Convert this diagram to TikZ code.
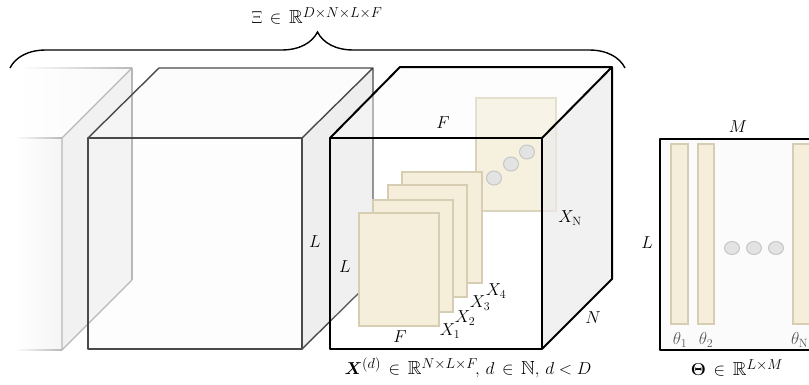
\documentclass[tikz,border=0pt]{standalone}
\usepackage{amsmath,amssymb,bm}
\usetikzlibrary{decorations.pathreplacing}
\definecolor{sheetfill}{HTML}{F5EEDA}
\definecolor{sheetline}{HTML}{D6CDB3}
\definecolor{edgemid}{HTML}{4A4A4A}
\definecolor{fadeline}{HTML}{B8B8B8}
\tikzset{
  sheet/.style={fill=sheetfill, draw=sheetline, line width=1.2},
  blob/.style={fill=gray!22, draw=gray!45, line width=1},
  midedge/.style={draw=edgemid, line width=1.4, line join=round},
  bigedge/.style={draw=black, line width=2, line join=round},
  lab/.style={inner sep=0pt, font=\fontsize{17}{20}\selectfont},
  formula/.style={inner sep=0pt, font=\fontsize{19}{22}\selectfont},
  fadebar/.style={left color=white, right color=fadeline}
}
\begin{document}
\begin{tikzpicture}[x=1pt,y=-1pt]
\useasboundingbox (0,0) rectangle (809,384);
\clip (0,0) rectangle (809,384);
\fill[white] (0,0) rectangle (809,384);

% ---- faded cube ----
\shade[left color=white, right color=gray!5] (20,68) -- (132,68) -- (62,138) -- (15,138) -- cycle;
\shade[left color=white, right color=gray!8] (15,138) rectangle (62,350);
\fill[gray!11] (62,138) -- (132,68) -- (132,280) -- (62,350) -- cycle;
\shade[fadebar] (20,67.4) rectangle (132,68.6);
\shade[fadebar] (15,137.4) rectangle (62,138.6);
\shade[fadebar] (15,349.4) rectangle (62,350.6);

% ---- middle cube ----
\coordinate (mFL) at (88,138); \coordinate (mFR) at (302,138);
\coordinate (mBR) at (302,349); \coordinate (mBL) at (88,349);
\coordinate (mTL) at (159,68); \coordinate (mTR) at (373,68);
\coordinate (mRB) at (373,279);
\fill[gray!4, opacity=0.5] (mFL) -- (mTL) -- (mTR) -- (mFR) -- cycle;
\fill[gray!13] (mFR) -- (mTR) -- (mRB) -- (mBR) -- cycle;
\fill[gray!4, opacity=0.3] (mFL) rectangle (mBR);
\draw[fadeline, line width=1.2] (62,138) -- (62,350) (62,138) -- (132,68) (62,350) -- (132,280);
\draw[fadeline, line width=1.2] (132,68) -- (132,138);
\draw[gray!55, line width=1.2] (132,138) -- (132,280);
\draw[midedge] (mFL) rectangle (mBR);
\draw[midedge] (mFL) -- (mTL) -- (mTR) -- (mFR) (mTR) -- (mRB) -- (mBR);
\node[lab] (Lmid) at (315,242) {$L$};

% ---- right cube ----
\coordinate (rFL) at (330,138); \coordinate (rFR) at (542,138);
\coordinate (rBR) at (542,349); \coordinate (rBL) at (330,349);
\coordinate (rTL) at (400,67); \coordinate (rTR) at (612,67);
\coordinate (rRB) at (612,279);
\draw[sheet] (476,98) rectangle (556,211);
\fill[gray!3, opacity=0.4] (rFL) -- (rTL) -- (rTR) -- (rFR) -- cycle;
\fill[gray!14, opacity=0.75] (rFR) -- (rTR) -- (rRB) -- (rBR) -- cycle;
\fill[white, opacity=0.12] (rFL) rectangle (rBR);
\draw[blob] (494,178) ellipse (7.5 and 7);
\draw[blob] (511,164) ellipse (7.5 and 7);
\draw[blob] (527,152) ellipse (7.5 and 7);
\draw[sheet] (402,172) rectangle (482,283);
\draw[sheet] (388,185) rectangle (467,297);
\draw[sheet] (373,200) rectangle (453,312);
\draw[sheet] (359,213) rectangle (439,326);
\draw[bigedge] (rFL) rectangle (rBR);
\draw[bigedge] (rFL) -- (rTL) -- (rTR) -- (rFR) (rTR) -- (rRB) -- (rBR);

\node[lab] (Ftop) at (443,123) {$F$};
\node[lab] (XN) at (570,218) {$X_{\mathrm{N}}$};
\node[lab] (Lin) at (345,267) {$L$};
\node[lab] (Fbot) at (400,337) {$F$};
\node[lab] (X1) at (450,331) {$X_1$};
\node[lab] (X2) at (465,318) {$X_2$};
\node[lab] (X3) at (480,303) {$X_3$};
\node[lab] (X4) at (496,291) {$X_4$};
\node[lab] (Nlab) at (593,318) {$N$};
\node[formula] (Xd) at (468,368) {$\boldsymbol{X}^{(d)}\mathrel{\,\in\,}\mathbb{R}^{N\times L\times F}\!,\, d\mathrel{\,\in\,}\mathbb{N},\, d<D$};

% ---- brace ----
\coordinate (bL) at (10,68); \coordinate (bR) at (625,68);
\draw[line width=1.4, decorate, decoration={brace, amplitude=36pt}] (bL) -- (bR);
\node[formula] (Xi) at (317,16) {$\Xi\mathrel{\,\in\,}\mathbb{R}^{D\times N\times L\times F}$};

% ---- Theta matrix ----
\draw[bigedge, fill=gray!3] (660,139) rectangle (860,350);
\draw[sheet] (671,144) rectangle (688,324);
\draw[sheet] (698,144) rectangle (714,324);
\draw[sheet] (793,144) rectangle (811,324);
\draw[blob] (732,248) ellipse (7.5 and 6.5);
\draw[blob] (754,248) ellipse (7.5 and 6.5);
\draw[blob] (776,248) ellipse (7.5 and 6.5);
\node[lab] (Mlab) at (738,127) {$M$};
\node[lab] (Lth) at (647,243) {$L$};
\node[lab, text=gray!70!black] (t1) at (680,340) {$\theta_1$};
\node[lab, text=gray!70!black] (t2) at (706,340) {$\theta_2$};
\node[lab, text=gray!70!black, anchor=east] (tN) at (808.5,340) {$\theta_{\mathrm{N}}$};
\node[formula] (Th) at (737,368) {$\boldsymbol{\Theta}\mathrel{\,\in\,}\mathbb{R}^{L\times M}$};
\end{tikzpicture}
\end{document}
